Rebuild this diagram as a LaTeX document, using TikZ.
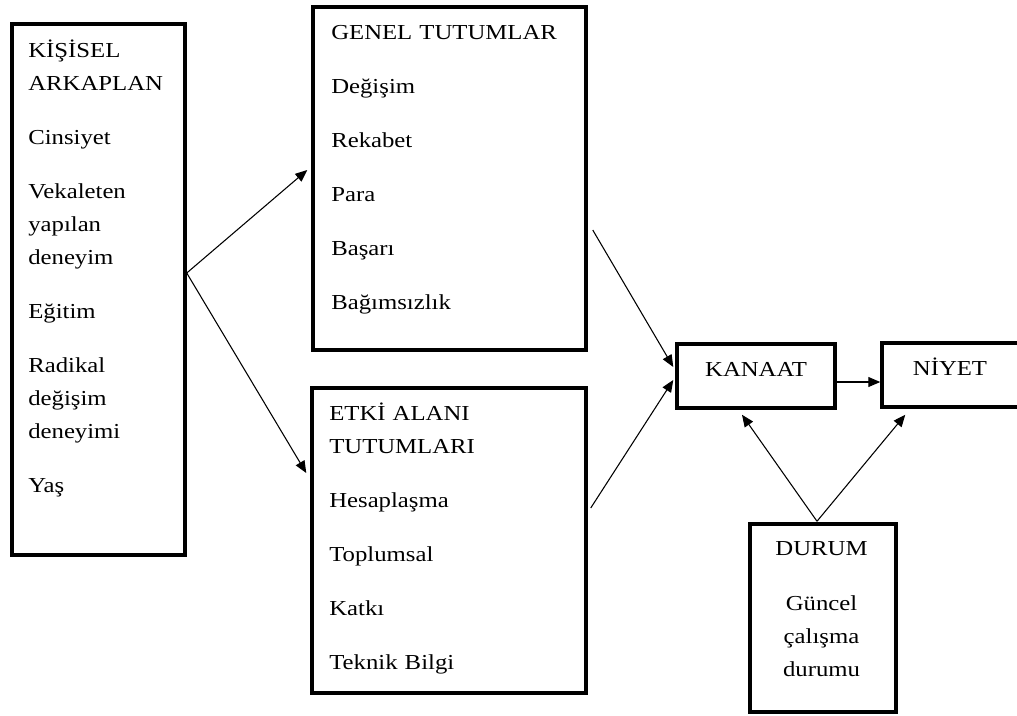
\documentclass[tikz,border=0pt]{standalone}
\usepackage{fontspec}
\setmainfont{Liberation Serif}[FakeStretch=1.16]
\usetikzlibrary{calc,arrows.meta}
\tikzset{
	kutu/.style={draw, line width=2.6pt, inner sep=0pt},
	yazi/.style={anchor=base west, align=left, inner sep=0pt, text width=200pt, font=\fontsize{16}{24.75}\selectfont},
	ok/.style={line width=0.8pt, -{Triangle[length=9pt,width=7.5pt]}}
}
\newcommand{\ara}{\\[15.75pt]}

\begin{document}
\begin{tikzpicture}[x=0.75pt,y=-0.75pt]
		%%%%% START %%%%%
		\useasboundingbox (0,0) rectangle (1017,715);
		
		\node[kutu, minimum width=129.75pt, minimum height=398.25pt] (kisisel) at (98.5,289.5) {};
		\node[yazi] (kisisel-t) at (28,57) {KİŞİSEL\\ARKAPLAN\ara Cinsiyet\ara Vekaleten\\yapılan\\deneyim\ara Eğitim\ara Radikal\\değişim\\deneyimi\ara Yaş};
		
		\node[kutu, minimum width=204.75pt, minimum height=257.25pt] (genel) at (449.5,178.5) {};
		\node[yazi] (genel-t) at (331,39) {GENEL TUTUMLAR\ara Değişim\ara Rekabet\ara Para\ara Başarı\ara Bağımsızlık};
		
		\node[kutu, minimum width=205.5pt, minimum height=228.75pt] (etki) at (449,540.5) {};
		\node[yazi] (etki-t) at (329,420) {ETKİ ALANI\\TUTUMLARI\ara Hesaplaşma\ara Toplumsal\ara Katkı\ara Teknik Bilgi};
		
		\node[kutu, minimum width=118.5pt, minimum height=48pt, font=\fontsize{16}{24.75}\selectfont, text height=10.5pt, text depth=10.5pt] (kanaat) at (756,376) {KANAAT};
		\node[kutu, minimum width=103.5pt, minimum height=48pt, font=\fontsize{16}{24.75}\selectfont, text height=10.5pt, text depth=10.5pt, text centered] (niyet) at (951,375) {\hspace*{-1.5pt}NİYET};
		
		\node[kutu, minimum width=109.5pt, minimum height=141pt] (durum) at (823,618) {};
		\node[yazi, anchor=base, align=center, text width=100pt] (durum-t) at (821.5,555) {DURUM\\[16.5pt]Güncel\\çalışma\\durumu};
		
		\draw[ok] ($(kisisel.east)+(0,-16.5)$) -- ($(genel.west)+(-4,-8.5)$);
		\draw[ok] ($(kisisel.east)+(0,-16.5)$) -- ($(etki.west)+(-4,-67.5)$);
		\draw[ok] ($(genel.east)+(5,51.5)$) -- ($(kanaat.west)+(-2,-9)$);
		\draw[ok] ($(etki.east)+(3,-32.5)$) -- ($(kanaat.west)+(-2,4)$);
		\draw[ok] ($(kanaat.east)+(0,6)$) -- ($(niyet.west)+(0,7)$);
		\draw[ok] ($(durum.north)+(-6,-1)$) -- ($(kanaat.south)+(-14,5)$);
		\draw[ok] ($(durum.north)+(-6,-1)$) -- ($(niyet.south west)+(25,6)$);
		%%%%% END %%%%%
\end{tikzpicture}
\end{document}
